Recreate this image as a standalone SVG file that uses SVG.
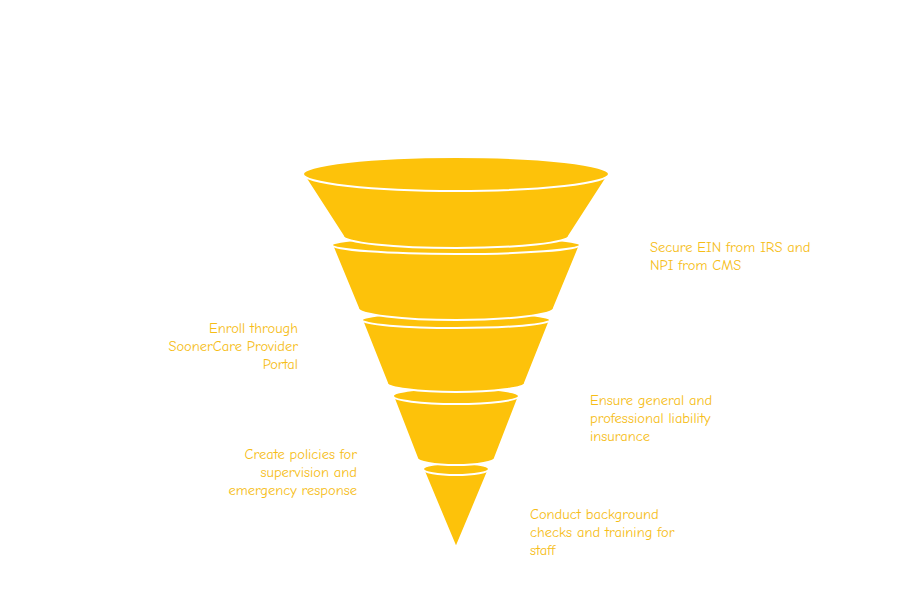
<svg xmlns="http://www.w3.org/2000/svg" width="912" height="605" viewBox="0 0 912 605">
<style>
.b{fill:#FDC20A;stroke:#fff;stroke-width:2}
.t{fill:#F6BD16;font-family:"Comic Neue","Open Sans","Liberation Sans",sans-serif;font-size:14.5px}
.r{text-anchor:end}
</style>
<rect width="912" height="605" fill="#fff"/>
<g id="s5"><path class="b" d="M423,469 L456,548 L489,469 Z"/><ellipse class="b" cx="456" cy="469" rx="33" ry="6"/></g>
<g id="s4"><path class="b" d="M393,396 L417,458 A39,7 0 0 0 495,458 L519,396 Z"/><ellipse class="b" cx="456" cy="396" rx="63" ry="8"/></g>
<g id="s3"><path class="b" d="M362,320 L387,383 A69,9 0 0 0 525,383 L550,320 Z"/><ellipse class="b" cx="456" cy="320" rx="94" ry="8"/></g>
<g id="s2"><path class="b" d="M332,245 L358,308 A98,12 0 0 0 554,308 L580,245 Z"/><ellipse class="b" cx="456" cy="245" rx="124" ry="9"/></g>
<g id="s1"><path class="b" d="M303,174 L343,236 A113,12 0 0 0 569,236 L609,174 Z"/><ellipse class="b" cx="456" cy="174" rx="153" ry="17"/></g>
<g id="connectors"></g>
<g id="labels">
<text class="t" x="650" y="252">Secure EIN from IRS and</text><text class="t" x="650" y="270">NPI from CMS</text>
<text class="t r" x="298" y="333">Enroll through</text><text class="t r" x="298" y="351">SoonerCare Provider</text><text class="t r" x="298" y="369">Portal</text>
<text class="t" x="590" y="405">Ensure general and</text><text class="t" x="590" y="423">professional liability</text><text class="t" x="590" y="441">insurance</text>
<text class="t r" x="357" y="459">Create policies for</text><text class="t r" x="357" y="477">supervision and</text><text class="t r" x="357" y="495">emergency response</text>
<text class="t" x="530" y="519">Conduct background</text><text class="t" x="530" y="537">checks and training for</text><text class="t" x="530" y="555">staff</text>
</g>
</svg>
